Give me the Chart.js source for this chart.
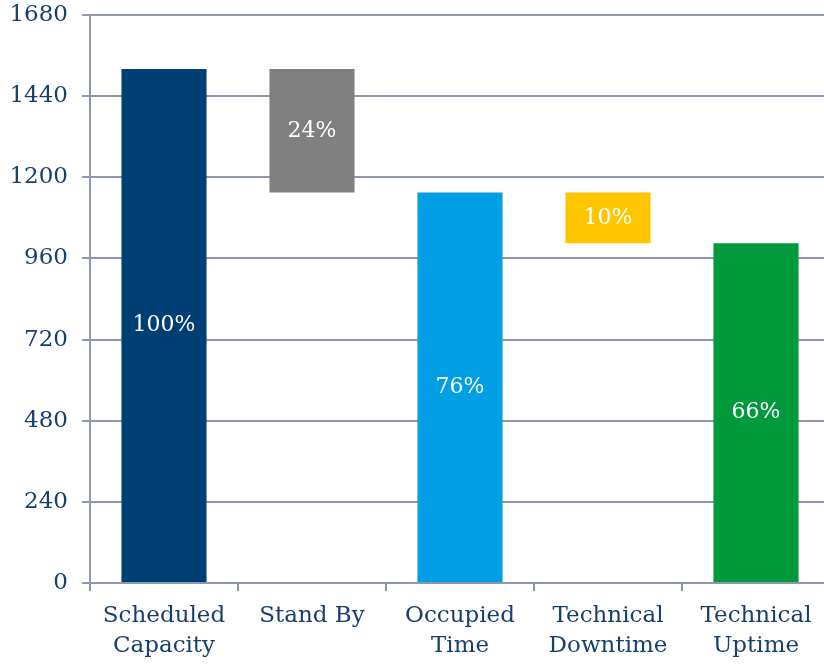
<!DOCTYPE html>
<html>
<head>
<meta charset="utf-8">
<script src="https://cdn.jsdelivr.net/npm/chart.js@4/dist/chart.umd.min.js"></script>
<style>
  html, body { margin: 0; padding: 0; background: #fff; overflow: hidden; }
  #wrap { width: 834px; height: 664px; }
</style>
</head>
<body>
<div id="wrap"><canvas id="chart"></canvas></div>
<script>
// waterfall: each bar floats between a low and a high value
const categories = [['Scheduled', 'Capacity'], 'Stand By', ['Occupied', 'Time'], ['Technical', 'Downtime'], ['Technical', 'Uptime']];
const lows = [0, 1155, 0, 1005, 0];
const highs = [1520, 1520, 1155, 1155, 1005];
const shares = ['100%', '24%', '76%', '10%', '66%'];
const barColors = ['#003F73', '#808080', '#009FE3', '#FFC600', '#009A3D'];
const yTicks = [0, 240, 480, 720, 960, 1200, 1440, 1680];

const FONT = "Georgia, 'DejaVu Serif', serif";
const TEXT = '#17406D';
const GRID = '#8E97AE';

// writes the percentage in the middle of every bar
const centerLabels = {
  id: 'centerLabels',
  afterDatasetsDraw(chart) {
    const ctx = chart.ctx;
    const meta = chart.getDatasetMeta(0);
    ctx.save();
    ctx.fillStyle = '#fff';
    ctx.font = '22px ' + FONT;
    ctx.textAlign = 'center';
    ctx.textBaseline = 'middle';
    meta.data.forEach((bar, i) => {
      const p = bar.getProps(['x', 'y', 'base'], true);
      ctx.fillText(shares[i], p.x, (p.y + p.base) / 2);
    });
    ctx.restore();
  }
};

new Chart(document.getElementById('chart'), {
  type: 'bar',
  data: {
    labels: categories,
    datasets: [{
      data: lows.map((lo, i) => [lo, highs[i]]),
      backgroundColor: barColors,
      borderWidth: 0,
      barPercentage: 0.575,
      categoryPercentage: 1
    }]
  },
  options: {
    responsive: true,
    maintainAspectRatio: false,
    animation: false,
    layout: { padding: { top: 15, right: 4, left: 0, bottom: 0 } },
    plugins: { legend: { display: false }, tooltip: { enabled: false } },
    scales: {
      x: {
        grid: { drawOnChartArea: false, color: GRID, lineWidth: 2, tickLength: 8, offset: true },
        border: { color: GRID, width: 2 },
        ticks: { color: TEXT, font: { family: FONT, size: 23, lineHeight: 1.3 }, padding: 10, maxRotation: 0 },
        afterFit(scale) { scale.height = 81; }
      },
      y: {
        min: 0,
        max: 1680,
        afterBuildTicks(scale) { scale.ticks = yTicks.map(v => ({ value: v })); },
        grid: { color: GRID, lineWidth: 2, tickLength: 8 },
        border: { color: GRID, width: 2 },
        ticks: { color: TEXT, font: { family: FONT, size: 23 }, padding: 14, callback: v => String(v) },
        afterFit(scale) { scale.width = 90; scale.paddingTop = 0; scale.paddingBottom = 0; }
      }
    }
  },
  plugins: [centerLabels]
});
</script>
</body>
</html>
